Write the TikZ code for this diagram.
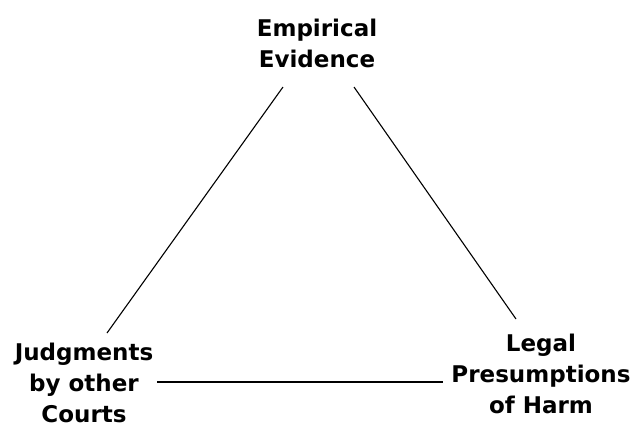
\documentclass[tikz,border=0pt]{standalone}
\usepackage{fontspec}
\setmainfont{DejaVu Sans}
\usepackage{tikz}

\begin{document}
\begin{tikzpicture}
                \tikzset{x={(1pt, 0pt)}, y={(0pt, -1pt)}}
                \tikzset{corner/.style={align=center, anchor=base, inner sep=0pt,
                        font=\fontsize{23}{31}\selectfont\bfseries}}
                \useasboundingbox (0, 0) rectangle (633, 426);
                \node[corner] (evidence) at (317, 67) {Empirical\\Evidence};
                \node[corner] (courts) at (84, 422) {Judgments\\by other\\Courts};
                \node[corner] (presumptions) at (541, 413) {Legal\\Presumptions\\of Harm};
                % line ends
                \coordinate (evidenceL) at (283, 87);
                \coordinate (evidenceR) at (354, 87);
                \coordinate (courtsT) at (107, 333);
                \coordinate (courtsR) at (157, 382);
                \coordinate (presumptionsT) at (516, 319);
                \coordinate (presumptionsL) at (443, 382);
                \draw[line width=1.1pt] (evidenceL) -- (courtsT);
                \draw[line width=1.1pt] (evidenceR) -- (presumptionsT);
                \draw[line width=1.1pt] (courtsR) -- (presumptionsL);
            \end{tikzpicture}
\end{document}
